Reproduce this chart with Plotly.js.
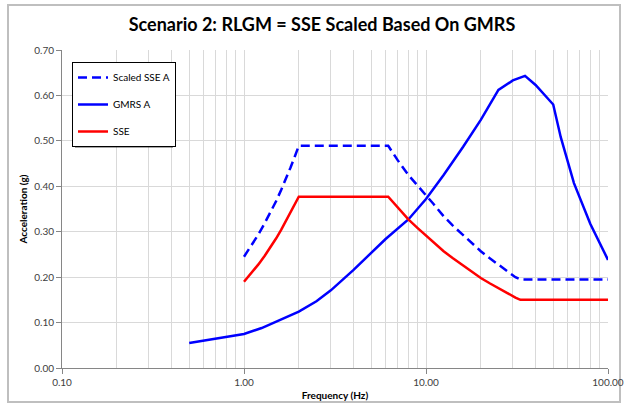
<!DOCTYPE html>
<html>
<head>
<meta charset="utf-8">
<script src="https://cdn.plot.ly/plotly-3.0.1.min.js"></script>
<style>html,body{margin:0;padding:0;background:#fff;}#chart{width:628px;height:404px;}</style>
</head>
<body>
<div id="chart"></div>
<script>
// Scaled SSE A (dashed blue)
var scaledFreq = [1, 1.1, 1.2, 1.3, 1.4, 1.5, 1.6, 1.7, 1.8, 1.9, 2, 6.2, 7, 8, 9, 10, 11, 12.5, 14, 16, 18, 20, 22.5, 25, 28, 31, 33, 100];
var scaledAcc  = [0.245, 0.27, 0.294, 0.319, 0.343, 0.367, 0.392, 0.416, 0.441, 0.465, 0.489, 0.489, 0.457, 0.425, 0.4, 0.38, 0.361, 0.334, 0.314, 0.292, 0.273, 0.257, 0.241, 0.228, 0.214, 0.2, 0.195, 0.195];
// GMRS A (solid blue)
var gmrsFreq = [0.5, 0.6, 0.7, 0.8, 0.9, 1.0, 1.25, 1.6, 2.0, 2.5, 3.0, 4.0, 5.0, 6.0, 8.0, 10, 12.5, 16, 20, 25, 30, 35, 40, 50, 55, 65, 80, 100];
var gmrsAcc  = [0.055, 0.060, 0.064, 0.068, 0.071, 0.075, 0.088, 0.106, 0.124, 0.147, 0.171, 0.216, 0.254, 0.284, 0.327, 0.372, 0.425, 0.487, 0.546, 0.612, 0.633, 0.643, 0.623, 0.58, 0.508, 0.407, 0.317, 0.238];
// SSE (red)
var sseFreq = [1, 1.1, 1.2, 1.3, 1.4, 1.5, 1.6, 1.7, 1.8, 1.9, 2, 6.2, 7, 8, 9, 10, 11, 12.5, 14, 16, 18, 20, 22.5, 25, 28, 31, 33, 100];
var sseAcc  = [0.19, 0.209, 0.228, 0.247, 0.266, 0.285, 0.304, 0.323, 0.342, 0.36, 0.377, 0.377, 0.352, 0.327, 0.308, 0.292, 0.278, 0.257, 0.242, 0.225, 0.211, 0.198, 0.186, 0.175, 0.165, 0.155, 0.15, 0.15];

var xMajorVals = [0.1, 1, 10, 100];
var xMajorText = ["0.10", "1.00", "10.00", "100.00"];
var xMinorVals = [0.2,0.3,0.4,0.5,0.6,0.7,0.8,0.9,2,3,4,5,6,7,8,9,20,30,40,50,60,70,80,90];

var FONT = "Lato, 'Liberation Sans', sans-serif";

var traces = [
  {x: scaledFreq, y: scaledAcc, name: "Scaled SSE A", mode: "lines", legendgroup: "a",
   line: {color: "#0000ff", width: 2.5, dash: "9px,5px"}},
  {x: gmrsFreq, y: gmrsAcc, name: "GMRS A", mode: "lines", legendgroup: "b",
   line: {color: "#0000ff", width: 2.5}},
  {x: sseFreq, y: sseAcc, name: "SSE", mode: "lines", legendgroup: "c",
   line: {color: "#ff0000", width: 2.5}}
];

var L = 62, R = 20, T = 50, B = 36, W = 628, H = 404;
var pw = W - L - R, ph = H - T - B;
function px(x){ return (x - L) / pw; }
function py(y){ return (H - B - y) / ph; }

var layout = {
  width: W, height: H,
  margin: {l: L, r: R, t: T, b: B, pad: 0},
  paper_bgcolor: "#ffffff", plot_bgcolor: "#ffffff",
  font: {family: FONT, size: 10, color: "#404040"},
  title: {text: "<b>Scenario 2: RLGM = SSE Scaled Based On GMRS</b>", x: 322/628, xref: "container", y: 1 - 25/404, yref: "container",
          xanchor: "center", yanchor: "middle", font: {family: FONT, size: 18, color: "#000000"}},
  xaxis: {
    type: "log", range: [-1, 2], tickmode: "array", tickvals: xMajorVals, ticktext: xMajorText,
    showgrid: true, gridcolor: "#d9d9d9", gridwidth: 1,
    showline: true, linecolor: "#868686", linewidth: 1,
    ticks: "outside", ticklen: 5, tickcolor: "#868686",
    minor: {tickmode: "array", tickvals: xMinorVals, showgrid: true, gridcolor: "#d9d9d9", gridwidth: 1, ticklen: 0},
    tickfont: {size: 10, color: "#404040", family: FONT},
    zeroline: false,
    title: {text: "<b>Frequency (Hz)</b>", font: {size: 10, color: "#000000", family: FONT}, standoff: 4}
  },
  yaxis: {
    range: [0, 0.7], dtick: 0.1, tick0: 0, tickformat: ".2f",
    showgrid: true, gridcolor: "#d9d9d9", gridwidth: 1,
    showline: true, linecolor: "#868686", linewidth: 1,
    ticks: "outside", ticklen: 5, tickcolor: "#868686",
    tickfont: {size: 10, color: "#404040", family: FONT},
    zeroline: false,
    title: {text: "<b>Acceleration (g)</b>", font: {size: 10, color: "#000000", family: FONT}, standoff: 4}
  },
  showlegend: true,
  legend: {x: px(72), y: py(62), xanchor: "left", yanchor: "top", bgcolor: "#ffffff",
           bordercolor: "#000000", borderwidth: 1, font: {size: 10, color: "#000000", family: FONT},
           tracegroupgap: 8, itemwidth: 30},
  shapes: [
    {type: "rect", xref: "paper", yref: "paper", x0: px(8), x1: px(620), y0: py(402), y1: py(5),
     line: {color: "#bfbfbf", width: 2}, fillcolor: "rgba(0,0,0,0)", layer: "below"},
    {type: "rect", xref: "paper", yref: "paper", x0: px(75), x1: px(173), y0: py(148), y1: py(65),
     line: {width: 0}, fillcolor: "rgba(0,0,0,0.35)", layer: "above"}
  ]
};

Plotly.newPlot("chart", traces, layout, {staticPlot: true, displayModeBar: false});
</script>
</body>
</html>
